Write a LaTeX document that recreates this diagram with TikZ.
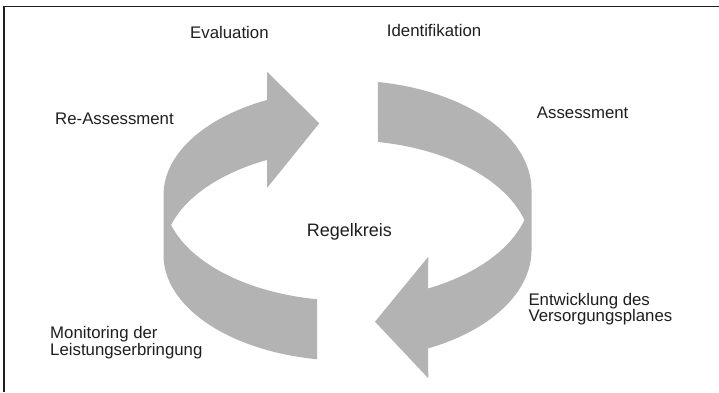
\documentclass[tikz,border=0pt]{standalone}
\usepackage{fontspec}
\setmainfont{Liberation Sans}
\definecolor{ribbon}{RGB}{179,179,179}
\definecolor{frame}{RGB}{30,30,30}
\definecolor{ink}{RGB}{30,30,30}
\begin{document}
\begin{tikzpicture}[x=1pt,y=-1pt,
  lbl/.style={anchor=base west, inner sep=0pt, font=\fontsize{16.8}{15.5}\selectfont, text=ink},
  band/.style={fill=ribbon}]
\useasboundingbox (0,0) rectangle (719,392);
\draw[frame, line width=1.5pt] (4,392) -- (4,6.5) -- (719,6.5);
% left ribbon (Re-Assessment arrow and Monitoring band)
\fill[band] plot[domain=99.54:163.55,samples=40,variable=\t] ({347.5+184*cos(\t)},{195+105.7*sin(\t)})
 -- plot[domain=163.55:115.94,samples=40,variable=\t] ({347.5+184*cos(\t)},{255-105.7*sin(\t)})
 -- (267,188) -- (319.3,123.3) -- (267,71.7)
 -- plot[domain=115.94:180,samples=40,variable=\t] ({347.5+184*cos(\t)},{195-105.7*sin(\t)})
 -- plot[domain=180:99.54,samples=40,variable=\t] ({347.5+184*cos(\t)},{255+105.7*sin(\t)})
 -- cycle;
% right ribbon (Assessment band and Entwicklung arrow)
\fill[band] plot[domain=80.46:0,samples=40,variable=\t] ({347.5+184*cos(\t)},{190-109.5*sin(\t)})
 -- plot[domain=0:64.06,samples=40,variable=\t] ({347.5+184*cos(\t)},{250+109.5*sin(\t)})
 -- (428.3,378.3) -- (375,321.7) -- (428.3,256.7)
 -- plot[domain=64.06:15.9,samples=40,variable=\t] ({347.5+184*cos(\t)},{190+109.5*sin(\t)})
 -- plot[domain=15.9:80.46,samples=40,variable=\t] ({347.5+184*cos(\t)},{250-109.5*sin(\t)})
 -- cycle;
% labels
\node[lbl] (eval) at (190,38.3) {Evaluation};
\node[lbl] (ident) at (386.7,36.7) {Identifikation};
\node[lbl] (reass) at (55,124) {Re-Assessment};
\node[lbl] (assess) at (536.7,118.3) {Assessment};
\node[lbl, font=\fontsize{18}{20}\selectfont] (regel) at (306.7,236) {Regelkreis};
\node[lbl] (monA) at (50,338.8) {Monitoring der};
\node[lbl] (monB) at (50,355.3) {Leistungserbringung};
\node[lbl] (entA) at (528.3,305) {Entwicklung des};
\node[lbl] (entB) at (528.3,321.5) {Versorgungsplanes};
\end{tikzpicture}
\end{document}
